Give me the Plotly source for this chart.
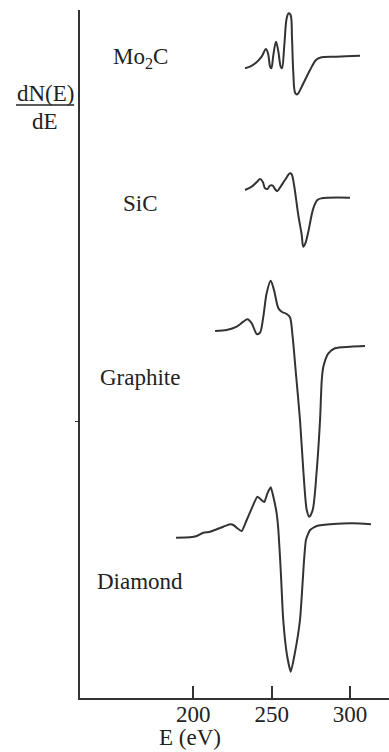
import plotly.graph_objects as go

# ---- data (energy in eV, signal in arbitrary units incl. vertical offset) ----
mo2c_E = [233.0, 236.2, 240.4, 243.6, 246.4, 247.9, 249.0, 249.8, 251.1, 252.8, 254.3, 255.8,
          256.6, 258.1, 259.6, 260.9, 262.1, 263.0, 263.8, 265.1, 266.4, 269.2, 274.5, 278.3,
          280.9, 291.5, 306.4]
mo2c_S = [629.7, 631.3, 635.7, 641.3, 649.0, 643.0, 631.3, 629.7, 643.0, 656.3, 646.3, 631.3,
          629.7, 653.0, 679.7, 684.7, 683.0, 659.7, 626.3, 604.7, 603.7, 611.3, 628.0, 638.0,
          640.3, 641.3, 642.3]

sic_E = [233.0, 237.3, 240.4, 242.6, 244.3, 245.8, 247.3, 248.9, 250.7, 252.1, 253.6, 255.3,
         258.5, 261.7, 262.8, 264.3, 267.0, 269.2, 270.2, 271.5, 273.4, 276.6, 279.2, 281.9, 300.0]
sic_S = [508.0, 511.3, 515.7, 519.0, 516.3, 509.7, 509.0, 512.3, 512.3, 509.0, 507.0, 510.3,
         518.0, 524.7, 523.7, 513.0, 483.0, 463.0, 451.3, 454.7, 466.3, 489.7, 498.0, 499.7, 500.3]

graphite_E = [213.9, 221.3, 227.7, 231.9, 234.5, 237.3, 240.5, 242.6, 244.7, 246.8, 249.4, 251.5,
              254.3, 256.4, 259.6, 261.7, 263.4, 265.3, 268.1, 270.2, 272.4, 274.0, 276.2, 278.8,
              280.9, 282.0, 283.0, 286.2, 290.4, 300.0, 309.6]
graphite_S = [367.0, 368.0, 371.3, 376.3, 378.7, 374.7, 364.0, 365.3, 381.3, 404.7, 417.3, 408.0,
              389.7, 386.3, 384.0, 380.7, 361.3, 328.0, 278.0, 228.0, 188.0, 181.3, 188.0, 228.0,
              278.0, 318.0, 331.3, 344.7, 349.7, 351.3, 352.0]

diamond_E = [189.0, 197.9, 202.2, 206.4, 210.7, 214.9, 219.2, 223.4, 225.6, 227.7, 230.9, 234.1,
             237.3, 240.9, 243.0, 245.3, 247.3, 249.4, 251.1, 253.2, 254.3, 255.8, 257.4, 259.8,
             262.2, 264.6, 268.1, 270.7, 271.9, 274.5, 278.8, 289.4, 302.1, 313.4]
diamond_S = [160.3, 160.7, 162.0, 165.3, 166.3, 168.7, 171.3, 173.7, 173.0, 170.3, 167.0, 178.0,
             189.7, 201.3, 198.7, 196.0, 204.7, 210.7, 201.3, 184.7, 168.0, 128.0, 78.0, 43.0,
             26.3, 43.0, 78.0, 138.0, 158.0, 168.0, 172.0, 174.0, 174.7, 173.7]

labels = ["Mo<sub>2</sub>C", "SiC", "Graphite", "Diamond"]
label_E = [166, 166, 166, 166]
label_S = [640, 495, 321, 117]

x_ticks = [200, 250, 300]
x_ticktext = ["200", "250", "300"]

FONT = "Liberation Serif"
LINE = "#333333"
TXT = "#222222"

fig = go.Figure()
series = [(mo2c_E, mo2c_S, 1.0), (sic_E, sic_S, 1.0), (graphite_E, graphite_S, 0.8),
          (diamond_E, diamond_S, 0.5)]
for ex, sy, sm in series:
    fig.add_trace(go.Scatter(x=ex, y=sy, mode="lines",
                             line=dict(color=LINE, width=2, shape="spline", smoothing=sm),
                             showlegend=False, hoverinfo="skip"))

for t, ex, sy in zip(labels, label_E, label_S):
    fig.add_annotation(x=ex, y=sy, xref="x", yref="y", text=t, showarrow=False,
                       xanchor="center", yanchor="middle",
                       font=dict(family=FONT, size=23, color=TXT))

# y-axis label as a fraction
fig.add_annotation(x=-0.112, y=0.879, xref="paper", yref="paper", text="dN(E)", showarrow=False,
                   xanchor="center", yanchor="middle", font=dict(family=FONT, size=23, color=TXT))
fig.add_annotation(x=-0.112, y=0.838, xref="paper", yref="paper", text="dE", showarrow=False,
                   xanchor="center", yanchor="middle", font=dict(family=FONT, size=23, color=TXT))
fig.add_shape(type="line", xref="paper", yref="paper", x0=-0.207, x1=-0.019, y0=0.862, y1=0.862,
              line=dict(color=TXT, width=1.5))
fig.add_annotation(x=0.356, y=-0.057, xref="paper", yref="paper", text="E (eV)", showarrow=False,
                   xanchor="center", yanchor="middle", font=dict(family=FONT, size=23, color=TXT))

fig.update_layout(
    width=389, height=752,
    margin=dict(l=80, r=0, t=10, b=54),
    paper_bgcolor="white", plot_bgcolor="white",
    xaxis=dict(range=[127.7, 324.9], showgrid=False, zeroline=False, showline=True,
               linecolor=LINE, linewidth=1.5, tickvals=x_ticks, ticktext=x_ticktext,
               ticks="inside", ticklen=12, tickwidth=1.5, tickcolor=LINE,
               ticklabelstandoff=-5,
               tickfont=dict(family=FONT, size=23, color=TXT)),
    yaxis=dict(range=[0, 688], showgrid=False, zeroline=False, showline=True,
               linecolor=LINE, linewidth=1.5, tickvals=[277], showticklabels=False,
               ticks="outside", ticklen=3, tickwidth=1, tickcolor=LINE),
)

fig.write_html("out.html", config={"displayModeBar": False},
               post_script="document.body.style.margin='0';")
